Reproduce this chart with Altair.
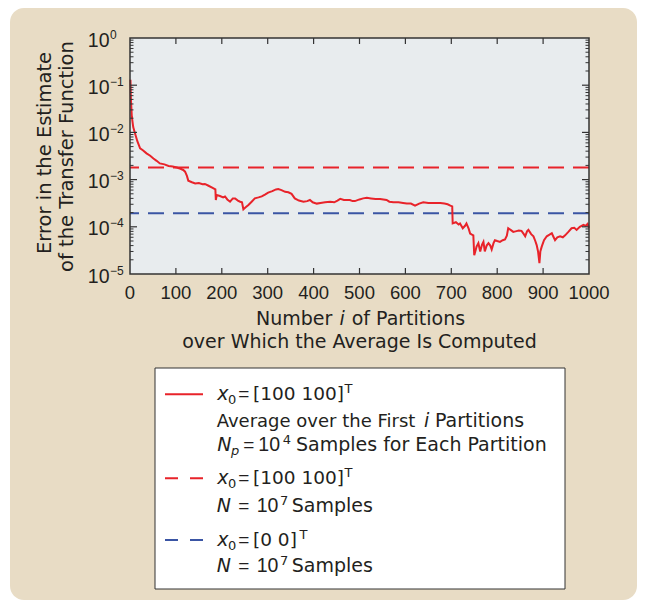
import altair as alt
import pandas as pd

# ---------------- data ----------------
partition_i = [1, 2, 4, 7, 11, 16, 22, 28, 36, 44, 51, 58, 65, 75, 84, 93, 102, 110, 116, 120,
               124, 127, 135, 142, 150, 158, 163, 170, 181, 186, 187, 189, 196, 203, 207, 212, 218,
               224, 229, 235, 240, 244, 247, 252, 258, 265, 272, 280, 287, 294, 301, 310, 318, 323,
               330, 338, 345, 352, 359, 368, 378, 386, 392, 398, 407, 415, 425, 436, 445, 452, 458,
               466, 479, 485, 490, 500, 508, 516, 525, 535, 545, 552, 559, 565, 574, 585, 595, 603,
               612, 621, 630, 639, 650, 660, 668, 676, 685, 692, 698, 702, 703, 710, 716, 719, 725,
               730, 733, 738, 741, 745, 748, 750, 753, 755, 759, 763, 767, 770, 773, 777, 781, 785,
               788, 792, 795, 800, 806, 812, 817, 821, 824, 830, 835, 840, 847, 853, 858, 861, 865,
               868, 874, 879, 883, 886, 889, 892, 894, 897, 902, 908, 914, 919, 923, 926, 931, 937,
               943, 948, 955, 962, 968, 973, 980, 988, 993, 997, 1000]
error_vals = [0.13, 0.05, 0.0215, 0.013, 0.0095, 0.0065, 0.0046, 0.0042, 0.0036, 0.0032, 0.0028,
              0.0025, 0.0022, 0.0021, 0.00195, 0.0019, 0.0018, 0.0017, 0.0016, 0.00147,
              0.0012, 0.00095, 0.00088, 0.00083, 0.00085, 0.0008, 0.00081, 0.00075, 0.00066, 0.00062,
              0.00037, 0.00047, 0.00045, 0.00042, 0.00044, 0.00038, 0.00034, 0.00040, 0.00040,
              0.00036, 0.00034, 0.00033, 0.000235, 0.00026, 0.00029, 0.00034, 0.0004, 0.00042,
              0.00044, 0.00048, 0.00053, 0.00057, 0.00062, 0.00063, 0.0006, 0.00055, 0.00054,
              0.00050, 0.00040, 0.00036, 0.00034, 0.00035, 0.00037, 0.00033, 0.00031, 0.00032,
              0.00033, 0.00034, 0.00033, 0.00036, 0.00039, 0.00037, 0.00037, 0.00035, 0.00035,
              0.00038, 0.00040, 0.00041, 0.00040, 0.00039, 0.00039, 0.00038, 0.00037, 0.00034,
              0.00033, 0.00033, 0.00032, 0.00031, 0.00031, 0.00028, 0.00031, 0.00033, 0.00032,
              0.00032, 0.00032, 0.00032, 0.00031, 0.00030, 0.00028, 0.00027, 0.000118, 0.000125,
              0.000112, 0.000118, 0.000093, 0.000105, 0.000118, 0.00009, 0.000072, 0.000068,
              0.000066, 0.000025, 0.000032, 0.000038, 0.000045, 0.000030, 0.000042, 0.000048,
              0.000030, 0.000040, 0.000045, 0.000040, 0.000033, 0.000045, 0.000052, 0.000050,
              0.000048, 0.000052, 0.000054, 0.000065, 0.000093, 0.000085, 0.000078, 0.00008,
              0.000083, 0.000082, 0.00007, 0.000063, 0.00008, 0.000086, 0.000070, 0.000063,
              0.00005, 0.000041, 0.00003, 0.000017, 0.00003, 0.000038, 0.000052, 0.000063,
              0.000068, 0.000073, 0.000060, 0.000052, 0.000060, 0.000063, 0.000060, 0.000066,
              0.000078, 0.000093, 0.000095, 0.000086, 0.0001, 0.00011, 0.000105, 0.000115, 0.000095]

ref_levels = [1.8e-3, 1.93e-4]          # N = 10^7 samples, x0=[100 100]^T and x0=[0 0]^T
ref_colors = ["#e8232a", "#3a55a4"]

x_ticks = list(range(0, 1001, 100))
x_inner_ticks = list(range(100, 1000, 100))
decades = [1, 1e-1, 1e-2, 1e-3, 1e-4, 1e-5]
exponents = ["0", "\u22121", "\u22122", "\u22123", "\u22124", "\u22125"]
minor_ticks = [k * 10.0 ** e for e in range(-5, 0) for k in range(2, 10)]

# ---------------- layout constants ----------------
W, H = 459, 236
OX, OY = 130, 38          # page position of plot origin
RED = "#e8232a"
BLUE = "#3a55a4"
TEXT = "#231f20"
WORD_FONT = "DejaVu Sans"
NUM_FONT = "Liberation Sans"

one = pd.DataFrame({"k": [0]})
xs = alt.Scale(domain=[0, 1000], nice=False, zero=False)
ys = alt.Scale(type="log", domain=[1e-5, 1], nice=False)


def piece(s, x, y, size=19, italic=False, align="left", font=WORD_FONT, angle=0):
    props = dict(text=s, align=align, baseline="alphabetic", fontSize=size, font=font,
                 color=TEXT, fontStyle="italic" if italic else "normal")
    if angle:
        props["angle"] = angle
    return alt.Chart(one).mark_text(**props).encode(x=alt.value(x - OX), y=alt.value(y - OY))


def box(x1, y1, x2, y2, **kw):
    return alt.Chart(one).mark_rect(**kw).encode(
        x=alt.value(x1 - OX), x2=alt.value(x2 - OX), y=alt.value(y1 - OY), y2=alt.value(y2 - OY))


def seg(x1, x2, y, color, dash=None):
    kw = dict(color=color, strokeWidth=2)
    if dash:
        kw["strokeDash"] = dash
    return alt.Chart(one).mark_rule(**kw).encode(
        x=alt.value(x1 - OX), x2=alt.value(x2 - OX), y=alt.value(y - OY))


layers = []
# beige panel and plot background
layers.append(box(10, 8, 637, 600, fill="#e8dcc5", cornerRadius=14))
layers.append(box(OX, OY, OX + W, OY + H, fill="#e8ecee"))

# reference dashed levels
ref_df = pd.DataFrame({"level": ref_levels, "col": ref_colors})
layers.append(alt.Chart(ref_df).mark_rule(strokeDash=[16, 9], strokeWidth=2).encode(
    y=alt.Y("level:Q", scale=ys, axis=None), color=alt.Color("col:N", scale=None)))

# running-average error line
line_df = pd.DataFrame({"i": partition_i, "err": error_vals})
layers.append(alt.Chart(line_df).mark_line(color=RED, strokeWidth=2).encode(
    x=alt.X("i:Q", scale=xs, axis=None), y=alt.Y("err:Q", scale=ys, axis=None)))

# frame
layers.append(box(OX, OY, OX + W, OY + H, fillOpacity=0, stroke="#333333", strokeWidth=1.5))

# inward ticks
xt = pd.DataFrame({"t": x_inner_ticks})
for y1, y2 in [(H, H - 6), (0, 6)]:
    layers.append(alt.Chart(xt).mark_rule(color="#333333", strokeWidth=1.2).encode(
        x=alt.X("t:Q", scale=xs, axis=None), y=alt.value(y1), y2=alt.value(y2)))
maj = pd.DataFrame({"d": decades[1:-1]})
mnr = pd.DataFrame({"m": minor_ticks})
for x1, sgn in [(0, 1), (W, -1)]:
    layers.append(alt.Chart(maj).mark_rule(color="#333333", strokeWidth=1.2).encode(
        y=alt.Y("d:Q", scale=ys, axis=None), x=alt.value(x1), x2=alt.value(x1 + sgn * 7)))
    layers.append(alt.Chart(mnr).mark_rule(color="#333333", strokeWidth=1).encode(
        y=alt.Y("m:Q", scale=ys, axis=None), x=alt.value(x1), x2=alt.value(x1 + sgn * 3.5)))

# y tick labels: 10 with superscript exponent
ylab = pd.DataFrame({"d": decades, "e": exponents, "b": ["10"] * len(decades)})
layers.append(alt.Chart(ylab).mark_text(align="right", baseline="alphabetic", dy=8.5,
                                        fontSize=19.5, font=NUM_FONT, color=TEXT).encode(
    y=alt.Y("d:Q", scale=ys, axis=None), x=alt.value(-20.5), text="b:N"))
layers.append(alt.Chart(ylab).mark_text(align="left", baseline="alphabetic", dy=0.5,
                                        fontSize=12, font=NUM_FONT, color=TEXT).encode(
    y=alt.Y("d:Q", scale=ys, axis=None), x=alt.value(-20), text="e:N"))

# x tick labels
xl = pd.DataFrame({"t": x_ticks})
layers.append(alt.Chart(xl).mark_text(align="center", baseline="alphabetic", fontSize=18.5,
                                      font=NUM_FONT, color=TEXT).encode(
    x=alt.X("t:Q", scale=xs, axis=None), y=alt.value(299 - OY), text="t:Q"))

# x title
layers.append(piece("Number", 256, 325))
layers.append(piece("i", 339.5, 325, italic=True))
layers.append(piece("of Partitions", 351.7, 325))
layers.append(piece("over Which the Average Is Computed", OX + W / 2, 348.3, align="center"))

# y title
layers.append(piece("Error in the Estimate", 51, 153, size=19.5, align="center", angle=270))
layers.append(piece("of the Transfer Function", 73, 156.5, size=19.5, align="center", angle=270))

# legend box
layers.append(box(155, 368, 565, 589, fill="white", stroke="#333333", strokeWidth=1))
layers.append(seg(165, 203, 394.3, RED))
layers.append(seg(165, 203, 478.3, RED, [13, 12]))
layers.append(seg(165, 203, 540, BLUE, [13, 12]))


def x0_line(bl, vec, t_x):
    return [piece("x", 217.3, bl, italic=True),
            piece("0", 228, bl + 3.5, size=13),
            piece("=", 238.3, bl, font=NUM_FONT),
            piece(vec, 253, bl, size=18.5),
            piece("T", t_x, bl - 7, size=13)]


def n_line(bl):
    return [piece("N", 216.7, bl, italic=True),
            piece("=", 238.3, bl, font=NUM_FONT),
            piece("10", 256.7, bl, size=19.5, font=NUM_FONT),
            piece("7", 280, bl - 7, size=13),
            piece("Samples", 291.7, bl)]


layers += x0_line(400, "[100 100]", 344.5)
layers += [piece("Average over the First", 216.7, 427, size=18),
           piece("i", 424, 427, italic=True),
           piece("Partitions", 435, 427)]
layers += [piece("N", 217.3, 451, italic=True),
           piece("p", 231, 455, size=13, italic=True),
           piece("=", 243.3, 451, font=NUM_FONT),
           piece("10", 258.3, 451, size=19.5, font=NUM_FONT),
           piece("4", 282.7, 444, size=13),
           piece("Samples for Each Partition", 296, 451)]
layers += x0_line(484.3, "[100 100]", 344.5)
layers += n_line(511.7)
layers += x0_line(546, "[0 0]", 299.5)
layers += n_line(571.7)

chart = alt.layer(*layers).properties(
    width=W, height=H,
    padding={"left": OX - 8, "top": OY - 8, "right": 631 - (OX - 8) - W, "bottom": 592 - (OY - 8) - H},
    autosize=alt.AutoSizeParams(type="none"),
    background="white",
).configure_view(strokeWidth=0)

chart.save("out.html", embed_options={"renderer": "svg", "actions": False})
